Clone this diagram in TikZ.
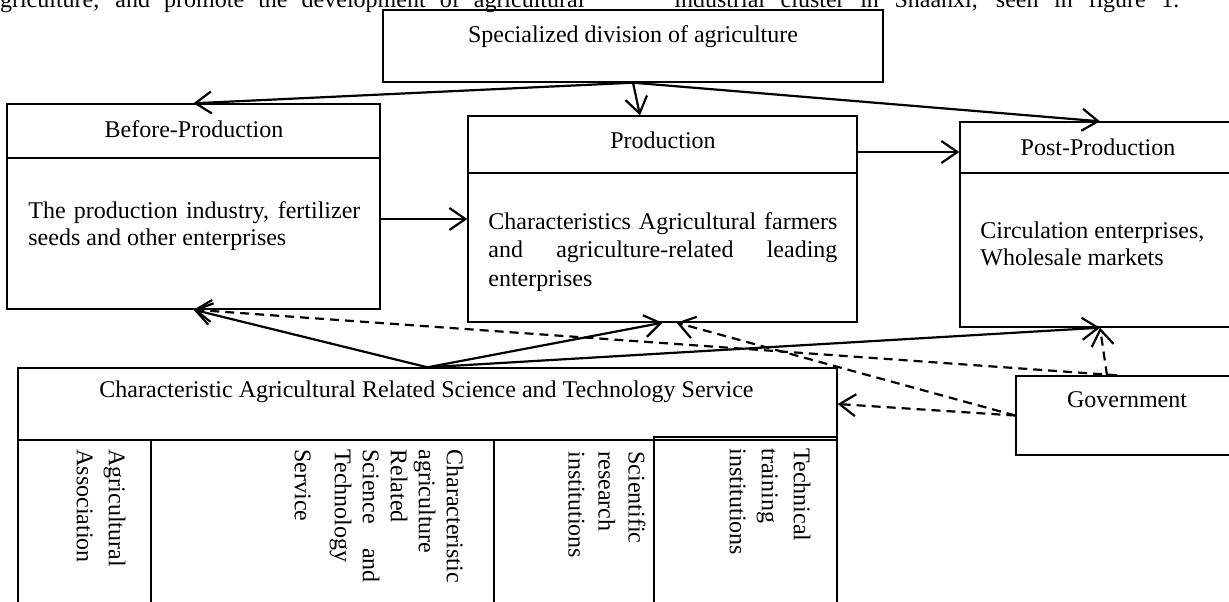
\documentclass[tikz,border=0pt]{standalone}
\usepackage{fontspec}
\setmainfont{Liberation Serif}
\usepackage{calc}
\usetikzlibrary{arrows.meta}

\begin{document}
\begin{tikzpicture}[
      x=0.5pt, y=-0.5pt,
      font=\fontsize{12}{14}\selectfont,
      box/.style  = {draw, line width=0.7pt, inner sep=0pt},
      txt/.style  = {inner sep=0pt},
      body/.style = {inner sep=0pt, align=left, anchor=west},
      vtxt/.style = {inner sep=0pt, align=left, rotate=-90, anchor=north west},
      arr/.style  = {-{Straight Barb[length=8pt, width=11pt]}, line width=1.1pt},
      darr/.style = {arr, dash pattern=on 4.5pt off 3pt},
    ]
    \useasboundingbox (0,0) rectangle (1229,601);
    \clip (0,0) rectangle (1229,601);

    % page text cut off above the figure
    \node[txt, anchor=base west] (frag1) at (-11,7)
      {\makebox[297.5pt][s]{agriculture, and promote the development of agricultural}};
    \node[txt, anchor=base west] (frag2) at (674,7)
      {\makebox[252.5pt][s]{industrial cluster in Shaanxi, seen in figure 1.}};

    % boxes
    \node[box, minimum width=250pt, minimum height=36pt] (spec) at (633,46) {};
    \node[box, minimum width=186.5pt, minimum height=102.5pt] (before) at (193.5,206.5) {};
    \node[box, minimum width=194.5pt, minimum height=103pt] (prod) at (662.5,219) {};
    \node[box, minimum width=140pt, minimum height=102.5pt] (post) at (1100,224.5) {};
    \node[box, minimum width=409.5pt, minimum height=36pt] (service) at (427.5,404) {};
    \node[box, minimum width=112pt, minimum height=39.5pt] (gov) at (1128,415.5) {};

    \draw[line width=0.7pt] (before.west |- 0,158) -- (before.east |- 0,158);
    \draw[line width=0.7pt] (prod.west |- 0,173) -- (prod.east |- 0,173);
    \draw[line width=0.7pt] (post.west |- 0,173) -- (post.east |- 0,173);

    % cells under the service box
    \node[box, minimum width=66.5pt, minimum height=90pt] (cellA) at (84.5,530) {};
    \node[box, minimum width=171.5pt, minimum height=90pt] (cellB) at (322.5,530) {};
    \node[box, minimum width=80pt, minimum height=90pt] (cellC) at (574,530) {};
    \node[box, minimum width=91.5pt, minimum height=91.5pt] (cellD) at (745.5,528.5) {};

    % texts
    \node[txt] (spectxt) at (633,37) {Specialized division of agriculture};
    \node[txt] (beforettl) at (194,129) {Before-Production};
    \node[body, font=\fontsize{12}{13.5}\selectfont] (beforebody) at (28,226)
      {\makebox[166pt][s]{The production industry, fertilizer}\\seeds and other enterprises};
    \node[txt] (prodttl) at (663,140) {Production};
    \node[body, font=\fontsize{12}{14.25}\selectfont] (prodbody) at (488,252)
      {\makebox[174.5pt][s]{Characteristics Agricultural farmers}\\
       \makebox[174.5pt][s]{and agriculture-related leading}\\enterprises};
    \node[txt] (postttl) at (1098,147) {Post-Production};
    \node[body, font=\fontsize{12}{13.5}\selectfont] (postbody) at (980,243.5)
      {Circulation enterprises,\\Wholesale markets};
    \node[txt] (govtxt) at (1127,400) {Government};
    \node[txt] (servicetxt) at (426.5,392)
      {Characteristic Agricultural Related Science and Technology Service};

    \node[vtxt, font=\fontsize{12}{16}\selectfont] (assoc) at (126,449)
      {Agricultural\\Association};
    \node[vtxt] (charserv) at (464,449)
      {Characteristic\\agriculture\\Related\\
       \makebox[\widthof{Characteristic}][s]{Science and}\\Technology\\[6pt]Service};
    \node[vtxt, font=\fontsize{12}{15}\selectfont] (research) at (646,451)
      {Scientific\\research\\institutions};
    \node[vtxt, font=\fontsize{12}{16}\selectfont] (training) at (811,448)
      {Technical\\training\\institutions};

    % solid arrows
    \draw[arr] (spec.south) -- (before.north);
    \draw[arr] (spec.south) -- ([xshift=-11.25pt]prod.north);
    \draw[arr] (spec.south) -- (post.north);
    \draw[arr] ([yshift=-6.25pt]before.east) -- (prod.west);
    \draw[arr] ([yshift=33.5pt]prod.east) -- ([yshift=33.5pt]prod.east -| post.west);
    \draw[arr] (service.north) -- (before.south);
    \draw[arr] (service.north) -- (prod.south);
    \draw[arr] (service.north) -- (post.south);

    % dashed arrows
    \draw[darr] ([xshift=-5.5pt]gov.north) -- (before.south);
    \draw[darr] ([xshift=-10.5pt]gov.north) -- (post.south);
    \draw[darr] (gov.west) -- ([xshift=7pt]prod.south);
    \draw[darr] (gov.west) -- (service.east);
  \end{tikzpicture}
\end{document}
